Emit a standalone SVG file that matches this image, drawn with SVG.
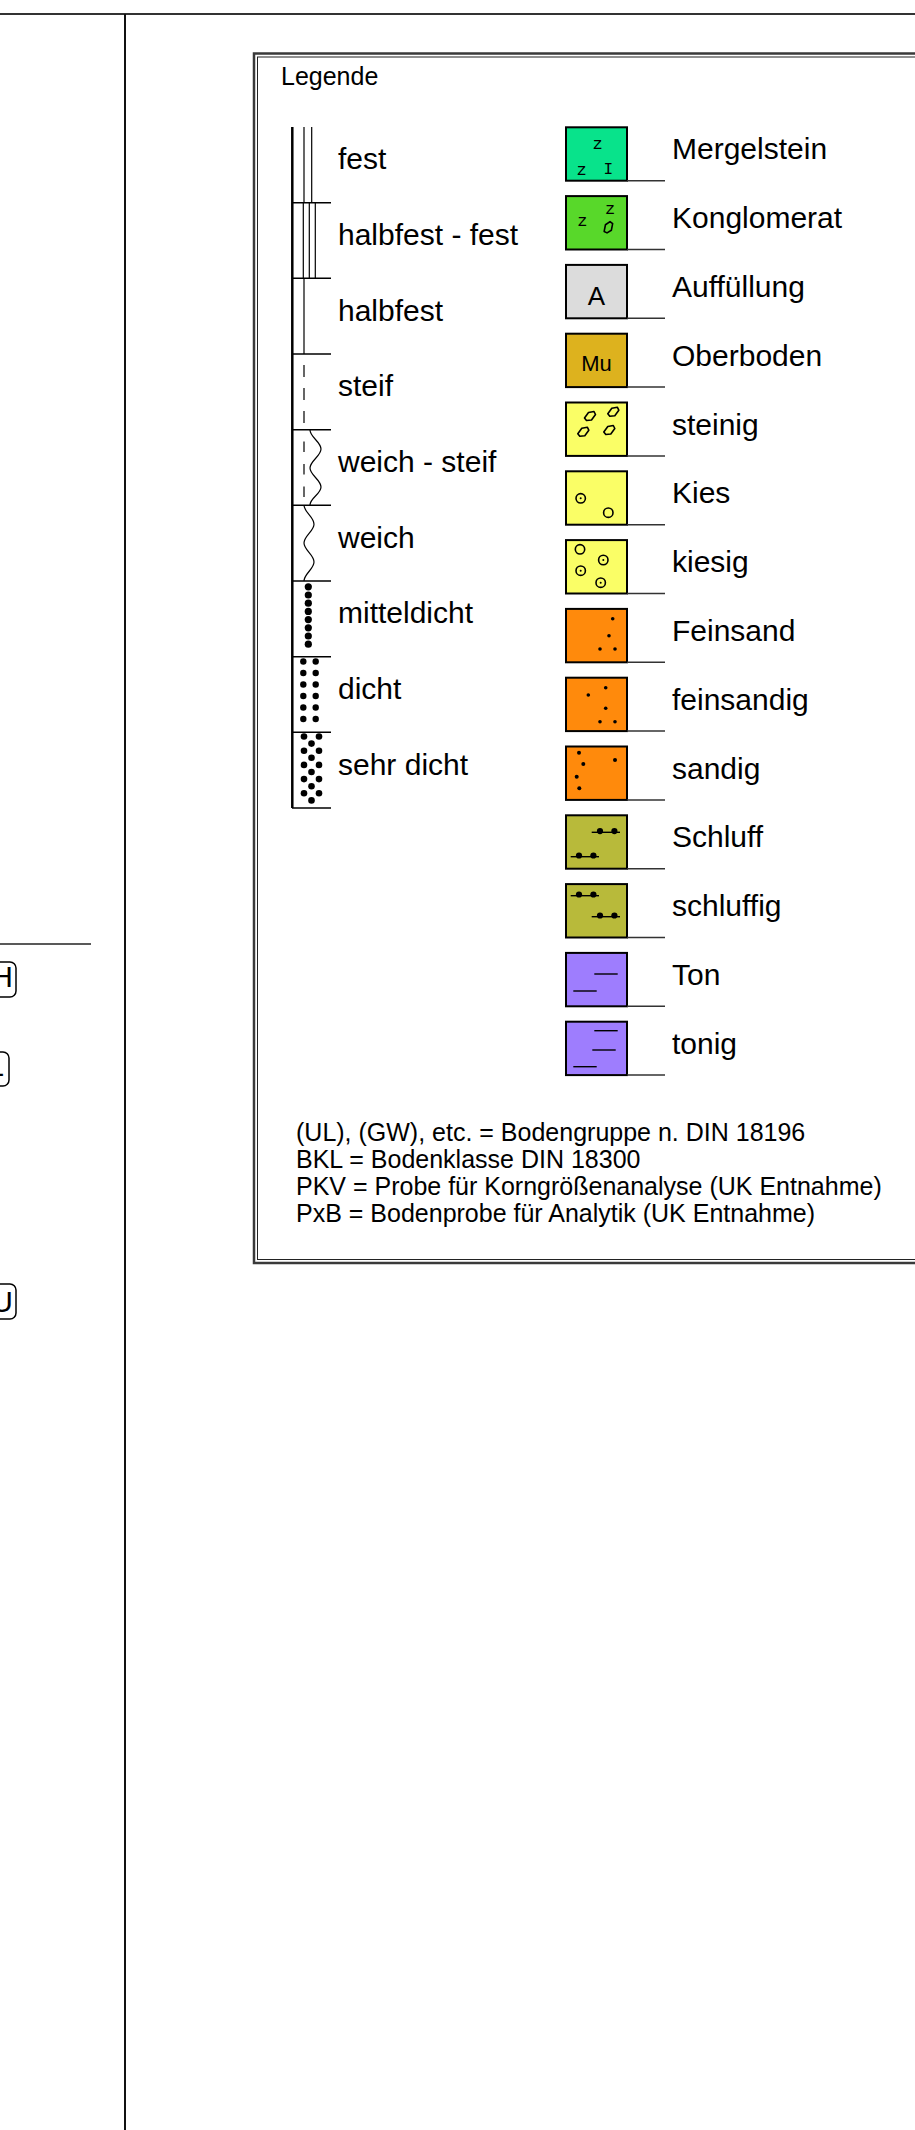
<svg xmlns="http://www.w3.org/2000/svg" xmlns:xlink="http://www.w3.org/1999/xlink" width="915" height="2130" viewBox="0 0 915 2130">
<style>
  .lbl{font-family:"Liberation Sans",Arial,sans-serif;font-size:30px;fill:#000}
  .note{font-family:"Liberation Sans",Arial,sans-serif;font-size:25px;fill:#000}
  .mono{font-family:"Liberation Mono","Courier New",monospace;font-size:16px;fill:#000}
  .zs{font-family:"Liberation Mono","Courier New",monospace;font-size:17px;fill:#000}
  .box{stroke:#000;stroke-width:2}
  .ul{stroke:#333;stroke-width:1.5}
  .tick{stroke:#000;stroke-width:1.5}
  .thin{stroke:#000;stroke-width:1.2;fill:none}
  .peb{fill:none;stroke:#000;stroke-width:1.6;stroke-linejoin:round}
  .grav{fill:none;stroke:#000;stroke-width:1.6}
</style>
<defs>
  <polygon id="pebble" points="-5.5,2 -1.5,-3.5 4,-4.5 5.5,-1.5 1.5,4 -3.5,4.5" class="peb"/>
  <g id="silt">
    <line x1="0" y1="0" x2="28.3" y2="0" stroke="#000" stroke-width="1.4"/>
    <circle cx="8.3" cy="-1.2" r="3.1" fill="#000"/>
    <circle cx="22.7" cy="-1.2" r="3.1" fill="#000"/>
  </g>
</defs>
<rect x="0" y="0" width="915" height="2130" fill="#fff"/>

<g id="frame">
  <line x1="0" y1="14" x2="915" y2="14" stroke="#333" stroke-width="2"/>
  <line x1="125" y1="14" x2="125" y2="2130" stroke="#111" stroke-width="2"/>
  <line x1="0" y1="944" x2="91" y2="944" stroke="#222" stroke-width="1.3"/>
</g>

<g id="left-tags">
  <g id="tag-h">
    <rect x="-40" y="962" width="56" height="35" rx="6" fill="#fff" stroke="#000" stroke-width="1.5"/>
    <text class="lbl" x="13" y="987" text-anchor="end">H</text>
  </g>
  <g id="tag-l">
    <rect x="-40" y="1052" width="49" height="34" rx="6" fill="#fff" stroke="#000" stroke-width="1.5"/>
    <text class="lbl" x="4" y="1076" text-anchor="end">L</text>
  </g>
  <g id="tag-u">
    <rect x="-40" y="1284" width="56" height="35" rx="6" fill="#fff" stroke="#000" stroke-width="1.5"/>
    <text class="lbl" x="13" y="1312" text-anchor="end">U</text>
  </g>
</g>

<g id="legend">
  <rect x="254" y="53.5" width="800" height="1209.5" fill="#fff" stroke="#3a3a3a" stroke-width="2.5"/>
  <rect x="257.5" y="57" width="800" height="1202.5" fill="none" stroke="#222" stroke-width="1"/>
  <text class="note" x="281" y="85">Legende</text>
</g>

<g id="consistency-column">
  <line x1="292.3" y1="127" x2="292.3" y2="808" stroke="#000" stroke-width="2.5"/>
  <g class="tick">
    <line x1="292" y1="202.7" x2="331" y2="202.7"/>
    <line x1="292" y1="278.3" x2="331" y2="278.3"/>
    <line x1="292" y1="354" x2="331" y2="354"/>
    <line x1="292" y1="429.7" x2="331" y2="429.7"/>
    <line x1="292" y1="505.3" x2="331" y2="505.3"/>
    <line x1="292" y1="581" x2="331" y2="581"/>
    <line x1="292" y1="656.7" x2="331" y2="656.7"/>
    <line x1="292" y1="732.3" x2="331" y2="732.3"/>
    <line x1="292" y1="808" x2="331" y2="808"/>
  </g>
  <g id="c-fest">
    <line class="thin" x1="304" y1="127" x2="304" y2="202.7"/>
    <line class="thin" x1="311.7" y1="127" x2="311.7" y2="202.7"/>
    <text class="lbl" x="338" y="169.3">fest</text>
  </g>
  <g id="c-halbfest-fest">
    <line class="thin" x1="303.3" y1="202.7" x2="303.3" y2="278.3"/>
    <line class="thin" x1="309.3" y1="202.7" x2="309.3" y2="278.3"/>
    <line class="thin" x1="315.3" y1="202.7" x2="315.3" y2="278.3"/>
    <text class="lbl" x="338" y="245">halbfest - fest</text>
  </g>
  <g id="c-halbfest">
    <line class="thin" x1="304" y1="278.3" x2="304" y2="354"/>
    <text class="lbl" x="338" y="320.7">halbfest</text>
  </g>
  <g id="c-steif">
    <line class="thin" x1="304" y1="365" x2="304" y2="423" stroke-dasharray="12 11"/>
    <text class="lbl" x="338" y="396.3">steif</text>
  </g>
  <g id="c-weich-steif">
    <line class="thin" x1="304" y1="441.5" x2="304" y2="497" stroke-dasharray="10.5 12"/>
    <path class="thin" d="M310,430 C310,437 321,442 321,449 C321,456 310,461 310,468 C310,475 321,480 321,487 C321,494 310,498 310,505"/>
    <text class="lbl" x="338" y="472">weich - steif</text>
  </g>
  <g id="c-weich">
    <path class="thin" d="M304,505.3 C304,512 314,517 314,524.2 C314,531 304,536 304,543.1 C304,550 314,555 314,562 C314,569 304,574 304,581"/>
    <text class="lbl" x="338" y="547.6">weich</text>
  </g>
  <g id="c-mitteldicht" fill="#000">
    <circle cx="308.3" cy="586.8" r="3.6"/>
    <circle cx="308.3" cy="595" r="3.6"/>
    <circle cx="308.3" cy="603.2" r="3.6"/>
    <circle cx="308.3" cy="611.4" r="3.6"/>
    <circle cx="308.3" cy="619.6" r="3.6"/>
    <circle cx="308.3" cy="627.8" r="3.6"/>
    <circle cx="308.3" cy="636" r="3.6"/>
    <circle cx="308.3" cy="644.2" r="3.6"/>
    <text class="lbl" x="338" y="623.3">mitteldicht</text>
  </g>
  <g id="c-dicht" fill="#000">
    <circle cx="303.3" cy="661.5" r="3.2"/><circle cx="315.7" cy="661.5" r="3.2"/>
    <circle cx="303.3" cy="673" r="3.2"/><circle cx="315.7" cy="673" r="3.2"/>
    <circle cx="303.3" cy="684.5" r="3.2"/><circle cx="315.7" cy="684.5" r="3.2"/>
    <circle cx="303.3" cy="696" r="3.2"/><circle cx="315.7" cy="696" r="3.2"/>
    <circle cx="303.3" cy="707.5" r="3.2"/><circle cx="315.7" cy="707.5" r="3.2"/>
    <circle cx="303.3" cy="719" r="3.2"/><circle cx="315.7" cy="719" r="3.2"/>
    <text class="lbl" x="338" y="699">dicht</text>
  </g>
  <g id="c-sehr-dicht" fill="#000">
    <circle cx="304" cy="736.5" r="3.3"/><circle cx="319" cy="736.5" r="3.3"/>
    <circle cx="311.5" cy="743.6" r="3.3"/>
    <circle cx="304" cy="750.7" r="3.3"/><circle cx="319" cy="750.7" r="3.3"/>
    <circle cx="311.5" cy="757.8" r="3.3"/>
    <circle cx="304" cy="764.9" r="3.3"/><circle cx="319" cy="764.9" r="3.3"/>
    <circle cx="311.5" cy="772" r="3.3"/>
    <circle cx="304" cy="779.1" r="3.3"/><circle cx="319" cy="779.1" r="3.3"/>
    <circle cx="311.5" cy="786.2" r="3.3"/>
    <circle cx="304" cy="793.3" r="3.3"/><circle cx="319" cy="793.3" r="3.3"/>
    <circle cx="311.5" cy="800.4" r="3.3"/>
    <text class="lbl" x="338" y="774.6">sehr dicht</text>
  </g>
</g>

<g id="soil-symbols">
  <g id="s-mergelstein" transform="translate(566,127.3)">
    <rect class="box" x="0" y="0" width="61" height="53.4" fill="#08e38b"/>
    <line class="ul" x1="61" y1="53.4" x2="99" y2="53.4"/>
    <text class="zs" x="31.7" y="22" text-anchor="middle">z</text>
    <text class="zs" x="15.7" y="48" text-anchor="middle">z</text>
    <text class="mono" x="42.3" y="47" text-anchor="middle">I</text>
    <text class="lbl" x="106" y="32">Mergelstein</text>
  </g>
  <g id="s-konglomerat" transform="translate(566,196.1)">
    <rect class="box" x="0" y="0" width="61" height="53.4" fill="#58d82a"/>
    <line class="ul" x1="61" y1="53.4" x2="99" y2="53.4"/>
    <text class="zs" x="16.3" y="30" text-anchor="middle">z</text>
    <text class="zs" x="44" y="17.6" text-anchor="middle">z</text>
    <use xlink:href="#pebble" href="#pebble" transform="translate(42.3,31.2) rotate(-25)"/>
    <text class="lbl" x="106" y="32">Konglomerat</text>
  </g>
  <g id="s-auffuellung" transform="translate(566,264.9)">
    <rect class="box" x="0" y="0" width="61" height="53.4" fill="#dcdcdc"/>
    <line class="ul" x1="61" y1="53.4" x2="99" y2="53.4"/>
    <text class="lbl" x="30.5" y="40" text-anchor="middle" style="font-size:26px">A</text>
    <text class="lbl" x="106" y="32">Auffüllung</text>
  </g>
  <g id="s-oberboden" transform="translate(566,333.7)">
    <rect class="box" x="0" y="0" width="61" height="53.4" fill="#ddb21e"/>
    <line class="ul" x1="61" y1="53.4" x2="99" y2="53.4"/>
    <text class="lbl" x="30.5" y="37.5" text-anchor="middle" style="font-size:22px">Mu</text>
    <text class="lbl" x="106" y="32">Oberboden</text>
  </g>
  <g id="s-steinig" transform="translate(566,402.5)">
    <rect class="box" x="0" y="0" width="61" height="53.4" fill="#fafe66"/>
    <line class="ul" x1="61" y1="53.4" x2="99" y2="53.4"/>
    <use xlink:href="#pebble" href="#pebble" transform="translate(24,13.5)"/>
    <use xlink:href="#pebble" href="#pebble" transform="translate(47.3,9.2)"/>
    <use xlink:href="#pebble" href="#pebble" transform="translate(17.3,29.2)"/>
    <use xlink:href="#pebble" href="#pebble" transform="translate(43.3,27.5)"/>
    <text class="lbl" x="106" y="32">steinig</text>
  </g>
  <g id="s-kies" transform="translate(566,471.3)">
    <rect class="box" x="0" y="0" width="61" height="53.4" fill="#fafe66"/>
    <line class="ul" x1="61" y1="53.4" x2="99" y2="53.4"/>
    <circle class="grav" cx="14.7" cy="27" r="4.7"/><circle cx="14.7" cy="27" r="1" fill="#000"/>
    <circle class="grav" cx="42.3" cy="41.4" r="4.7"/>
    <text class="lbl" x="106" y="32">Kies</text>
  </g>
  <g id="s-kiesig" transform="translate(566,540.1)">
    <rect class="box" x="0" y="0" width="61" height="53.4" fill="#fafe66"/>
    <line class="ul" x1="61" y1="53.4" x2="99" y2="53.4"/>
    <circle class="grav" cx="14" cy="9.2" r="4.7"/>
    <circle class="grav" cx="37.3" cy="19.9" r="4.7"/><circle cx="37.3" cy="19.9" r="1" fill="#000"/>
    <circle class="grav" cx="14.7" cy="30.6" r="4.7"/><circle cx="14.7" cy="30.6" r="1" fill="#000"/>
    <circle class="grav" cx="34.7" cy="42.6" r="4.7"/><circle cx="34.7" cy="42.6" r="1" fill="#000"/>
    <text class="lbl" x="106" y="32">kiesig</text>
  </g>
  <g id="s-feinsand" transform="translate(566,608.9)">
    <rect class="box" x="0" y="0" width="61" height="53.4" fill="#ff8a0c"/>
    <line class="ul" x1="61" y1="53.4" x2="99" y2="53.4"/>
    <g fill="#000"><circle cx="46.7" cy="9.8" r="1.8"/><circle cx="43" cy="26.8" r="1.8"/><circle cx="34" cy="40.1" r="1.8"/><circle cx="49" cy="40.1" r="1.8"/></g>
    <text class="lbl" x="106" y="32">Feinsand</text>
  </g>
  <g id="s-feinsandig" transform="translate(566,677.7)">
    <rect class="box" x="0" y="0" width="61" height="53.4" fill="#ff8a0c"/>
    <line class="ul" x1="61" y1="53.4" x2="99" y2="53.4"/>
    <g fill="#000"><circle cx="39.7" cy="10" r="1.8"/><circle cx="22.3" cy="17.3" r="1.8"/><circle cx="39.7" cy="30.6" r="1.8"/><circle cx="34" cy="44" r="1.8"/><circle cx="49" cy="44" r="1.8"/></g>
    <text class="lbl" x="106" y="32">feinsandig</text>
  </g>
  <g id="s-sandig" transform="translate(566,746.5)">
    <rect class="box" x="0" y="0" width="61" height="53.4" fill="#ff8a0c"/>
    <line class="ul" x1="61" y1="53.4" x2="99" y2="53.4"/>
    <g fill="#000"><circle cx="13" cy="6.2" r="2"/><circle cx="17.3" cy="17.5" r="2"/><circle cx="49" cy="13.5" r="2"/><circle cx="10.7" cy="30.2" r="2"/><circle cx="13.3" cy="41.8" r="2"/></g>
    <text class="lbl" x="106" y="32">sandig</text>
  </g>
  <g id="s-schluff" transform="translate(566,815.3)">
    <rect class="box" x="0" y="0" width="61" height="53.4" fill="#b8ba3a"/>
    <line class="ul" x1="61" y1="53.4" x2="99" y2="53.4"/>
    <use xlink:href="#silt" href="#silt" transform="translate(25.7,17)"/>
    <use xlink:href="#silt" href="#silt" transform="translate(4.7,41.4)"/>
    <text class="lbl" x="106" y="32">Schluff</text>
  </g>
  <g id="s-schluffig" transform="translate(566,884.1)">
    <rect class="box" x="0" y="0" width="61" height="53.4" fill="#b8ba3a"/>
    <line class="ul" x1="61" y1="53.4" x2="99" y2="53.4"/>
    <use xlink:href="#silt" href="#silt" transform="translate(4.7,11.6)"/>
    <use xlink:href="#silt" href="#silt" transform="translate(25.7,32.6)"/>
    <text class="lbl" x="106" y="32">schluffig</text>
  </g>
  <g id="s-ton" transform="translate(566,952.9)">
    <rect class="box" x="0" y="0" width="61" height="53.4" fill="#9e7dfe"/>
    <line class="ul" x1="61" y1="53.4" x2="99" y2="53.4"/>
    <line x1="28.3" y1="21.1" x2="51.7" y2="21.1" stroke="#000" stroke-width="1.4"/>
    <line x1="7.3" y1="38.1" x2="30.7" y2="38.1" stroke="#000" stroke-width="1.4"/>
    <text class="lbl" x="106" y="32">Ton</text>
  </g>
  <g id="s-tonig" transform="translate(566,1021.7)">
    <rect class="box" x="0" y="0" width="61" height="53.4" fill="#9e7dfe"/>
    <line class="ul" x1="61" y1="53.4" x2="99" y2="53.4"/>
    <line x1="28.3" y1="9" x2="51.7" y2="9" stroke="#000" stroke-width="1.4"/>
    <line x1="26.3" y1="28.3" x2="49.7" y2="28.3" stroke="#000" stroke-width="1.4"/>
    <line x1="7.3" y1="45" x2="30.7" y2="45" stroke="#000" stroke-width="1.4"/>
    <text class="lbl" x="106" y="32">tonig</text>
  </g>
</g>

<g id="notes">
  <text class="note" x="296" y="1141">(UL), (GW), etc. = Bodengruppe n. DIN 18196</text>
  <text class="note" x="296" y="1168">BKL = Bodenklasse DIN 18300</text>
  <text class="note" x="296" y="1195">PKV = Probe für Korngrößenanalyse (UK Entnahme)</text>
  <text class="note" x="296" y="1222">PxB = Bodenprobe für Analytik (UK Entnahme)</text>
</g>
</svg>
